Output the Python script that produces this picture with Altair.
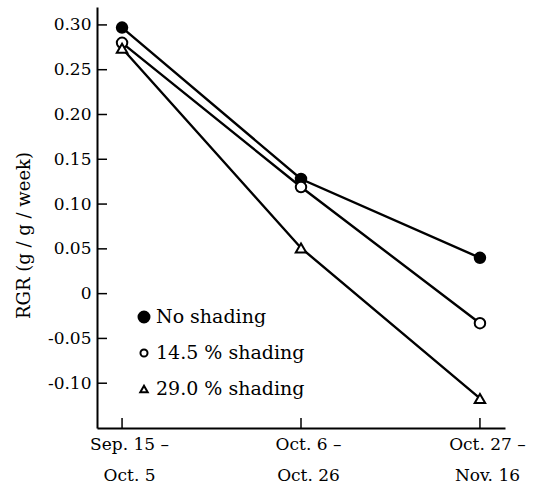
import altair as alt
import pandas as pd

# Sampling periods (two-line labels split on "|")
periods = ["Sep. 15 –|Oct. 5", "Oct. 6 –|Oct. 26", "Oct. 27 –|Nov. 16"]
series_names = ["No shading", "14.5 % shading", "29.0 % shading"]
series_shapes = ["circle", "circle", "triangle-up"]
series_fills = ["black", "white", "white"]

# Relative growth rate (g/g/week) per treatment
rgr_no_shading = [0.297, 0.128, 0.040]
rgr_shade_145 = [0.280, 0.119, -0.033]
rgr_shade_290 = [0.274, 0.051, -0.117]

y_ticks = [-0.10, -0.05, 0.0, 0.05, 0.10, 0.15, 0.20, 0.25, 0.30]

rows = []
for name, vals in zip(series_names, [rgr_no_shading, rgr_shade_145, rgr_shade_290]):
    for p, v in zip(periods, vals):
        rows.append({"period": p, "rgr": v, "series": name})
df = pd.DataFrame(rows)

FONT = "DejaVu Serif"
W, H = 408, 421

x_scale = alt.Scale(type="point", domain=periods, padding=0.14)
x_enc = alt.X(
    "period:O",
    sort=periods,
    scale=x_scale,
    axis=alt.Axis(
        title=None,
        labelAngle=0,
        ticks=False,
        labelExpr="split(datum.label, '|')",
        labelLineHeight=31,
        labelPadding=8,
        labelBaseline="top",
        labelOffset=7,
    ),
)
y_scale = alt.Scale(domain=[-0.15, 0.32], nice=False, zero=False)
y_enc = alt.Y(
    "rgr:Q",
    scale=y_scale,
    axis=alt.Axis(
        title="RGR (g / g / week)",
        values=y_ticks,
        ticks=False,
        grid=False,
        labelExpr="datum.value == 0 ? '0' : replace(format(datum.value, '.2f'), '−', '-')",
        labelPadding=6,
        titleX=-73,
        titleY=228,
        titleBaseline="middle",
        titleAngle=270,
        titleFontSize=18,
    ),
)

shape_scale = alt.Scale(domain=series_names, range=series_shapes)
fill_scale = alt.Scale(domain=series_names, range=series_fills)

base = alt.Chart(df)

lines = base.mark_line(color="black", strokeWidth=2.4).encode(
    x=x_enc, y=y_enc, detail="series:N"
)

points = base.mark_point(
    stroke="black", strokeWidth=2, opacity=1, fillOpacity=1, size=110
).encode(
    x=x_enc,
    y=y_enc,
    shape=alt.Shape("series:N", scale=shape_scale, legend=None),
    fill=alt.Fill("series:N", scale=fill_scale, legend=None),
)

# Inward-pointing tick marks on both axes
ytick_df = pd.DataFrame({"rgr": y_ticks})
yticks = alt.Chart(ytick_df).mark_rule(color="black", strokeWidth=1.5).encode(
    y=y_enc,
    x=alt.value(0),
    x2=alt.value(10),
)
xtick_df = pd.DataFrame({"period": periods})
xticks = alt.Chart(xtick_df).mark_rule(color="black", strokeWidth=1.5).encode(
    x=x_enc,
    y=alt.value(H),
    y2=alt.value(H - 10),
)

# Key drawn inside the plot area, one row per treatment
key_sizes = [120, 50, 55]
key_layers = []
for i, name in enumerate(series_names):
    row = pd.DataFrame({"series": [name]})
    ypix = 310 + i * 36
    key_layers.append(
        alt.Chart(row).mark_point(
            stroke="black", strokeWidth=2, opacity=1, fillOpacity=1,
            size=key_sizes[i], shape=series_shapes[i], fill=series_fills[i],
        ).encode(x=alt.value(47), y=alt.value(ypix))
    )
    key_layers.append(
        alt.Chart(row).mark_text(
            align="left", baseline="middle", font=FONT, fontSize=19, color="black"
        ).encode(text="series:N", x=alt.value(59), y=alt.value(ypix))
    )

chart = (
    alt.layer(lines, points, yticks, xticks, *key_layers)
    .properties(
        width=W,
        height=H,
        padding={"left": 97, "top": 7, "right": 36, "bottom": 63},
        autosize=alt.AutoSizeParams(type="none"),
        background="white",
    )
    .configure_view(stroke=None)
    .configure_axis(
        domainColor="black",
        domainWidth=2,
        labelFont=FONT,
        labelFontSize=17,
        labelColor="black",
        titleFont=FONT,
        titleFontSize=18,
        titleFontWeight="normal",
        titleColor="black",
    )
)

chart.save("out.html", embed_options={"renderer": "svg", "actions": False})
